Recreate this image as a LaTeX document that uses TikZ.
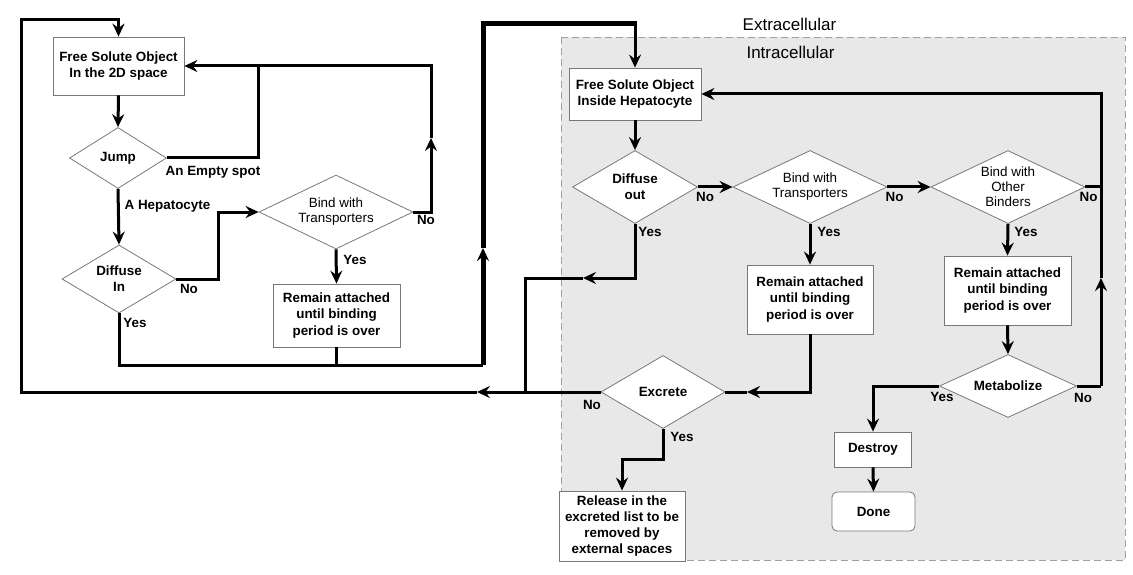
\documentclass[tikz,border=0pt]{standalone}
\usepackage{fontspec}
\setmainfont{Liberation Sans}
\usetikzlibrary{arrows.meta,shapes.geometric}
\definecolor{cellfill}{RGB}{232,232,232}
\definecolor{cellline}{RGB}{160,160,160}
\definecolor{shapeline}{RGB}{120,120,120}
\begin{document}
\begin{tikzpicture}[x=1pt,y=-1pt,
  bfont/.style={font=\fontsize{13.4}{16.2}\selectfont\bfseries},
  rfont/.style={font=\fontsize{13.4}{15}\selectfont},
  box/.style={bfont, draw=shapeline, line width=0.8pt, fill=white, align=center, inner sep=0pt},
  dia/.style={bfont, draw=shapeline, line width=0.8pt, fill=white, diamond, align=center, inner sep=0pt},
  lbl/.style={bfont, inner sep=0pt},
  tip/.tip={Stealth[length=13pt,width=12pt,inset=4.5pt]},
  conn/.style={line width=3pt, -tip},
  plain/.style={line width=3pt},
  heavy/.style={line width=5pt}
]
\useasboundingbox (0,0) rectangle (1133,575);
\fill[white] (0,0) rectangle (1133,575);

% cell region
\draw[draw=cellline, fill=cellfill, line width=0.8pt, dash pattern=on 7pt off 4pt] (561,37) rectangle (1125,560);
\node[font=\fontsize{17}{20}\selectfont, inner sep=0pt] (extra) at (789.5,24) {Extracellular};
\node[font=\fontsize{17}{20}\selectfont, inner sep=0pt] (intra) at (790.5,52) {Intracellular};

% nodes - extracellular
\node[box, minimum width=131pt, minimum height=58pt] (box1) at (118.5,66) {Free Solute Object\\In the 2D space};
\node[dia, minimum width=97pt, minimum height=61pt, aspect=1.59] (jump) at (118,158) {Jump};
\node[dia, minimum width=114pt, minimum height=68pt, aspect=1.68] (diffin) at (119,279) {Diffuse\\In};
\node[dia, rfont, minimum width=154pt, minimum height=74pt, aspect=2.08] (bindl) at (336,212) {Bind with\\Transporters};
\node[box, minimum width=127pt, minimum height=63pt] (reml) at (336.5,315.5) {Remain attached\\until binding\\period is over};

% nodes - intracellular
\node[box, minimum width=132pt, minimum height=52pt] (box2) at (635,94) {Free Solute Object\\Inside Hepatocyte};
\node[dia, minimum width=125pt, minimum height=73pt, aspect=1.71] (diffout) at (635,187) {Diffuse\\out};
\node[dia, rfont, minimum width=154pt, minimum height=73pt, aspect=2.1] (bindr) at (810,187) {Bind with\\Transporters};
\node[dia, rfont, minimum width=154pt, minimum height=73pt, aspect=2.1] (bindo) at (1008,187) {Bind with\\Other\\Binders};
\node[box, minimum width=126pt, minimum height=69pt] (remm) at (810,299.5) {Remain attached\\until binding\\period is over};
\node[box, minimum width=127pt, minimum height=69pt] (remr) at (1007.5,290.5) {Remain attached\\until binding\\period is over};
\node[dia, minimum width=137pt, minimum height=63pt, aspect=2.17] (metab) at (1008,386) {Metabolize};
\node[box, minimum width=77pt, minimum height=35pt] (destroy) at (873,449.5) {Destroy};
\node[box, rounded corners=5pt, minimum width=83pt, minimum height=39pt] (done) at (873.5,511.5) {Done};
\node[dia, minimum width=124pt, minimum height=73pt, aspect=1.7] (exc) at (663,392) {Excrete};
\node[box, minimum width=126pt, minimum height=70pt] (release) at (622,526) {Release in the\\excreted list to be\\removed by\\external spaces};

% coordinates
\coordinate (jA) at (258,66);
\coordinate (aB) at (431,138);
\coordinate (jH) at (483,365);
\coordinate (aH) at (483,248);
\coordinate (tH) at (635,24);
\coordinate (aL) at (477,392);
\coordinate (aD) at (583,278);
\coordinate (jD) at (525,392);
\coordinate (aR) at (1101,278);
\coordinate (aM) at (747,392);

% connectors - extracellular
\draw[conn] (box1.south) -- (jump.north);
\draw[conn] (jump.east) -| (jA) -- (box1.east);
\draw[conn] (bindl.east) -- (431,212) -- (aB);
\draw[plain] (aB) |- (jA);
\draw[conn] (jump.south) -- (diffin.north);
\draw[conn] (diffin.east) -- (218,279) |- (bindl.west);
\draw[conn] (bindl.south) -- (reml.north);
\draw[plain] (diffin.south) |- (jH);
\draw[plain] (reml.south) -- (reml.south |- jH);
\draw[heavy, line cap=square, -tip] (jH) -- (aH);
\draw[heavy] (aH) |- ([xshift=1.5pt]tH);
\draw[conn] (tH) -- (box2.north);
\draw[conn] (exc.west) -- (aL);
\draw[conn] (aL) -- (21,392) -- (21,20) -| (box1.north);

% connectors - intracellular
\draw[conn] (box2.south) -- (diffout.north);
\draw[conn] (diffout.south) |- (aD);
\draw[plain] (aD) -| (jD);
\draw[conn] (diffout.east) -- (bindr.west);
\draw[conn] (bindr.east) -- (bindo.west);
\draw[plain] (bindo.east) -- (bindo.east -| aR);
\draw[plain] (metab.east) -- (1101,386);
\draw[conn] (1101,386) -- (aR);
\draw[conn] (aR) |- (box2.east);
\draw[conn] (bindr.south) -- (remm.north);
\draw[conn] (bindo.south) -- (remr.north);
\draw[conn] (remm.south) |- (aM);
\draw[plain] (aM) -- (exc.east);
\draw[conn] (remr.south) -- (metab.north);
\draw[conn] (metab.west) -| (destroy.north);
\draw[conn] (destroy.south) -- (done.north);
\draw[conn] (exc.south) -- (663,459) -| (release.north);

% labels
\node[lbl] (l1) at (213,172) {An Empty spot};
\node[lbl] (l2) at (167.5,206) {A Hepatocyte};
\node[lbl] (l3) at (189,289) {No};
\node[lbl] (l4) at (135,323) {Yes};
\node[lbl] (l5) at (355,260) {Yes};
\node[lbl] (l6) at (426,220) {No};
\node[lbl] (l7) at (650,232) {Yes};
\node[lbl] (l8) at (705,197) {No};
\node[lbl] (l9) at (894.5,197) {No};
\node[lbl] (l10) at (1088.5,197) {No};
\node[lbl] (l11) at (829,232) {Yes};
\node[lbl] (l12) at (1026,232) {Yes};
\node[lbl] (l13) at (592,405) {No};
\node[lbl] (l14) at (682,437) {Yes};
\node[lbl] (l15) at (942,397) {Yes};
\node[lbl] (l16) at (1083,398) {No};
\end{tikzpicture}
\end{document}
